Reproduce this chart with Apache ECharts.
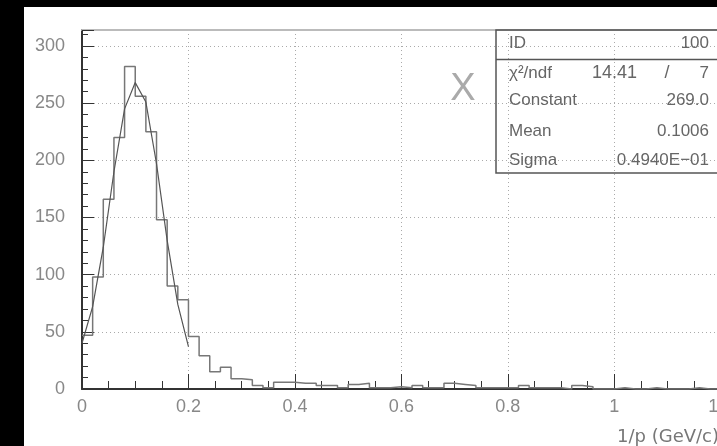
<!DOCTYPE html>
<html>
<head>
<meta charset="utf-8">
<script src="https://cdn.jsdelivr.net/npm/echarts@6/dist/echarts.min.js"></script>
<style>
  html, body { margin: 0; padding: 0; background: #000; }
  #main { position: absolute; left: 24px; top: 7px; width: 693px; height: 439px; background: #fff; }
</style>
</head>
<body>
<div id="main"></div>
<script>
// histogram of 1/p, bins of 0.02 starting at 0
const binWidth = 0.02;
const counts = [
  47, 98, 166, 220, 282, 256, 225, 148, 90, 78,
  46, 29, 15, 19, 9, 8, 3, 1, 6, 6,
  5, 5, 3, 3, 1, 4, 5, 1, 1, 2,
  1, 3, 1, 1, 5, 4, 3, 1, 1, 1,
  1, 3, 1, 1, 1, 0, 3, 2, 0, 0,
  1, 0, 0, 1, 0, 0, 0, 1, 0, 0
];

// gaussian fit curve
const fitX = [0, 0.02, 0.04, 0.06, 0.08, 0.10, 0.12, 0.14, 0.16, 0.18, 0.20];
const fitY = [40, 72, 124, 190, 245, 268, 251, 197, 130, 74, 37];

// stats box
const statNames = ['ID', 'χ²/ndf', 'Constant', 'Mean', 'Sigma'];
const statValues = ['100', '7', '269.0', '0.1006', '0.4940E\u221201'];
const chi2 = '14.41';

const xTicks = [0, 0.2, 0.4, 0.6, 0.8, 1, 1.2];
const yTicks = [0, 50, 100, 150, 200, 250, 300];

let histData = counts.map((c, i) => [i * binWidth, c]);
histData.push([counts.length * binWidth, counts[counts.length - 1]]);

const textFont = "'Liberation Sans', sans-serif";

let myChart = echarts.init(document.getElementById('main'));

let graphics = [
  {
    type: 'rect', z: 10,
    shape: { x: 472, y: 23, width: 300, height: 143 },
    style: { fill: 'none', stroke: '#555', lineWidth: 1.5 }
  },
  {
    type: 'line', z: 10,
    shape: { x1: 472, y1: 52.5, x2: 772, y2: 52.5 },
    style: { stroke: '#555', lineWidth: 1.5 }
  },
  {
    type: 'text', z: 10, x: 439, y: 83,
    style: { text: 'X', fill: '#aaa', font: '300 38px ' + textFont, textAlign: 'center', textVerticalAlign: 'middle' }
  },
  {
    type: 'text', z: 10, x: 593, y: 430,
    style: { text: '1/p (GeV/c)', fill: '#777', font: "18px 'DejaVu Sans', sans-serif", textAlign: 'left', textVerticalAlign: 'middle' }
  },
  {
    type: 'text', z: 10, x: 613, y: 66,
    style: { text: chi2, fill: '#666', font: '18px ' + textFont, textAlign: 'right', textVerticalAlign: 'middle' }
  },
  {
    type: 'text', z: 10, x: 643, y: 66,
    style: { text: '/', fill: '#666', font: '18px ' + textFont, textAlign: 'center', textVerticalAlign: 'middle' }
  }
];
const rowY = [36, 66, 93, 124, 153];
statNames.forEach((name, i) => {
  graphics.push({
    type: 'text', z: 10, x: 485, y: rowY[i],
    style: { text: name, fill: '#666', font: '17px ' + textFont, textAlign: 'left', textVerticalAlign: 'middle' }
  });
  graphics.push({
    type: 'text', z: 10, x: 685, y: rowY[i],
    style: { text: statValues[i], fill: '#666', font: '17px ' + textFont, textAlign: 'right', textVerticalAlign: 'middle' }
  });
});

let options = {
  animation: false,
  grid: { left: 58, top: 23, width: 692, height: 359, outerBoundsMode: 'none' },
  xAxis: [
    {
      type: 'value', min: 0, max: 1.3, interval: 0.2,
      axisLine: { lineStyle: { color: '#333', width: 2 } },
      axisTick: { inside: true, length: 15, lineStyle: { color: '#333', width: 1 } },
      minorTick: { show: true, splitNumber: 4, length: 8, lineStyle: { color: '#333', width: 1 } },
      splitLine: { show: true, lineStyle: { color: '#aaa', type: [1, 3], width: 1 } },
      axisLabel: {
        color: '#888', fontSize: 18, fontFamily: textFont, margin: 9,
        formatter: (v) => {
          let r = Math.round(v * 10) / 10;
          return xTicks.some((t) => Math.abs(t - r) < 1e-6) && Math.abs(v - r) < 1e-6 ? String(r) : '';
        }
      }
    },
    {
      type: 'value', min: 0, max: 1.3, position: 'top',
      axisLine: { show: true, lineStyle: { color: '#bbb', width: 2 } },
      axisTick: { show: false }, axisLabel: { show: false }, splitLine: { show: false }
    }
  ],
  yAxis: {
    type: 'value', min: 0, max: 314, interval: 50,
    axisLine: { show: true, lineStyle: { color: '#333', width: 2 } },
    axisTick: { show: true, inside: true, length: 12, lineStyle: { color: '#333', width: 1 } },
    minorTick: { show: true, splitNumber: 5, length: 6, lineStyle: { color: '#333', width: 1 } },
    splitLine: { show: true, lineStyle: { color: '#aaa', type: [1, 3], width: 1 } },
    axisLabel: {
      color: '#888', fontSize: 18, fontFamily: textFont, margin: 17,
      formatter: (v) => (yTicks.indexOf(v) >= 0 ? String(v) : '')
    }
  },
  graphic: graphics,
  series: [
    {
      name: 'histogram', type: 'line', step: 'end', xAxisIndex: 0,
      data: histData, symbol: 'none',
      lineStyle: { color: '#777', width: 1.5 }
    },
    {
      name: 'fit', type: 'line', xAxisIndex: 0,
      data: fitX.map((x, i) => [x, fitY[i]]), symbol: 'none',
      lineStyle: { color: '#555', width: 1.2 }
    }
  ]
};

myChart.setOption(options);
</script>
</body>
</html>
